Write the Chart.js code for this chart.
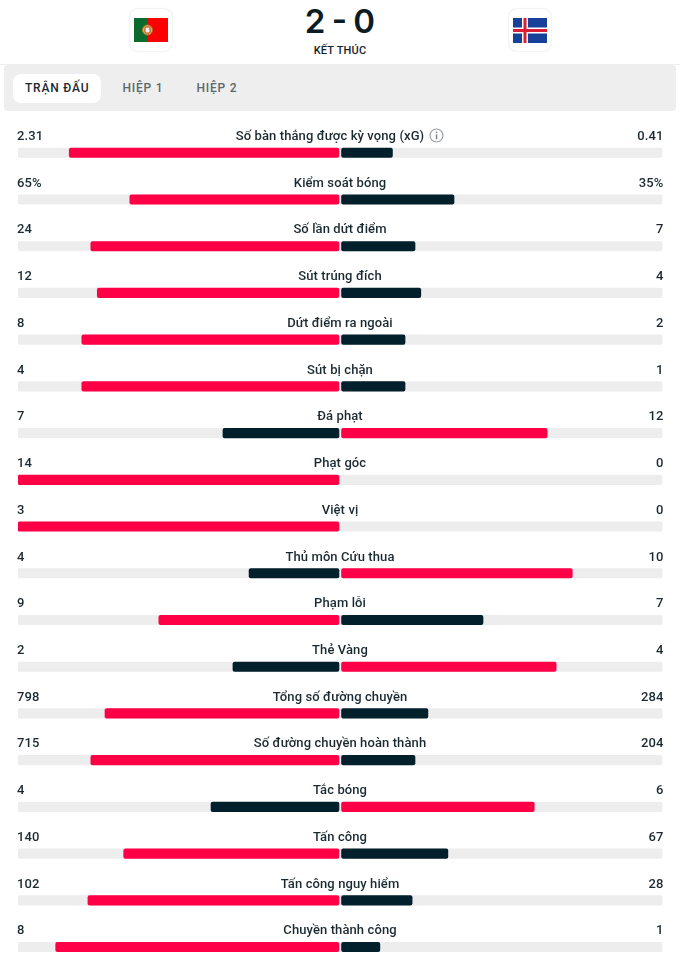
<!DOCTYPE html>
<html>
<head>
<meta charset="utf-8">
<script src="https://cdn.jsdelivr.net/npm/chart.js@4"></script>
<style>
html, body { margin: 0; padding: 0; background: #fff; }
body { width: 680px; height: 961px; overflow: hidden; position: relative; font-family: Roboto, sans-serif; color: #14232b; }
#statsChart { position: absolute; left: 0; top: 0; }
.abs { position: absolute; }
.flagbox { top: 9px; width: 42px; height: 42px; background: #fff; border-radius: 8px; box-shadow: 0 0 2px rgba(0,0,0,.18); }
#score { left: 240px; width: 200px; top: 0; text-align: center; font: 600 33px/42px Inter, sans-serif; color: #0c1c24; word-spacing: -2px; }
#status { left: 240px; width: 200px; top: 44px; text-align: center; font: 500 11px/14px Roboto, sans-serif; letter-spacing: .2px; }
#line { left: 0; top: 64px; width: 680px; height: 1px; background: #eee; }
#panel { left: 4px; top: 65px; width: 672px; height: 46px; background: #eeeeee; border-radius: 4px; }
#activeTab { left: 13px; top: 74px; width: 88px; height: 29px; background: #fff; border-radius: 8px; }
.tab { top: 80px; font: 500 12px/16px Roboto, sans-serif; letter-spacing: .8px; color: #5c666b; white-space: nowrap; }
</style>
</head>
<body>
<div class="abs flagbox" style="left:130px"></div>
<svg class="abs" style="left:134px;top:18px" width="34" height="24" viewBox="0 0 34 24">
  <rect width="34" height="24" fill="#ff0000"/>
  <rect width="13.5" height="24" fill="#0b6b2e"/>
  <circle cx="13.5" cy="12" r="5" fill="#e3c04a" stroke="#a8772a"/>
  <rect x="11" y="9" width="5" height="6" rx="1" fill="#f4f4f4" stroke="#c33" stroke-width="1"/>
</svg>
<div class="abs flagbox" style="left:509px"></div>
<svg class="abs" style="left:513px;top:18px" width="34" height="25" viewBox="0 0 34 25">
  <rect width="34" height="25" fill="#17409a"/>
  <rect x="9" width="6" height="25" fill="#fff"/>
  <rect y="9.5" width="34" height="6" fill="#fff"/>
  <rect x="10.5" width="3" height="25" fill="#dc1e35"/>
  <rect y="11" width="34" height="3" fill="#dc1e35"/>
</svg>
<div class="abs" id="score">2 - 0</div>
<div class="abs" id="status">KẾT THÚC</div>
<div class="abs" id="line"></div>
<div class="abs" id="panel"></div>
<div class="abs" id="activeTab"></div>
<div class="abs tab" style="left:25px;color:#1b2a31">TRẬN ĐẤU</div>
<div class="abs tab" style="left:122.5px">HIỆP 1</div>
<div class="abs tab" style="left:196.5px">HIỆP 2</div>
<canvas id="statsChart" width="680" height="971"></canvas>
<svg class="abs" style="left:429px;top:128px" width="15" height="15" viewBox="0 0 15 15">
  <circle cx="7.5" cy="7.5" r="6.5" fill="none" stroke="#9a9fa2" stroke-width="1.2"/>
  <rect x="6.8" y="6.4" width="1.5" height="4.8" fill="#7d8387"/>
  <rect x="6.8" y="3.6" width="1.5" height="1.6" fill="#7d8387"/>
</svg>
<script>
const statNames = ['Số bàn thắng được kỳ vọng (xG)', 'Kiểm soát bóng', 'Số lần dứt điểm', 'Sút trúng đích',
    'Dứt điểm ra ngoài', 'Sút bị chặn', 'Đá phạt', 'Phạt góc', 'Việt vị', 'Thủ môn Cứu thua', 'Phạm lỗi',
    'Thẻ Vàng', 'Tổng số đường chuyền', 'Số đường chuyền hoàn thành', 'Tắc bóng', 'Tấn công',
    'Tấn công nguy hiểm', 'Chuyền thành công'];
const homeLabels = ['2.31', '65%', '24', '12', '8', '4', '7', '14', '3', '4', '9', '2', '798', '715', '4', '140', '102', '8'];
const awayLabels = ['0.41', '35%', '7', '4', '2', '1', '12', '0', '0', '10', '7', '4', '284', '204', '6', '67', '28', '1'];
// bar lengths in % of each half
const homeShare = [84.1, 65.3, 77.4, 75.4, 80.2, 80.2, 36.4, 100, 100, 28.3, 56.3, 33.3, 73, 77.4, 40.1, 67.2, 78.3, 88.3];
const awayShare = [16.2, 35.3, 23.2, 25, 20.1, 20.1, 64.2, 0, 0, 72, 44.3, 67, 27.2, 23.2, 60.2, 33.4, 22.3, 12.3];

const red = '#ff0046';
const dark = '#02202b';
const track = '#ededed';
const gap = 0.4; // small space either side of the middle

const rowText = {
    id: 'rowText',
    afterDatasetsDraw(chart) {
        const { ctx, chartArea, scales } = chart;
        ctx.save();
        ctx.font = '500 13px Roboto, sans-serif';
        ctx.letterSpacing = '0.1px';
        ctx.fillStyle = '#1b2a31';
        ctx.textBaseline = 'middle';
        statNames.forEach((name, i) => {
            const y = scales.y.getPixelForValue(i) - 16;
            ctx.textAlign = 'left';
            ctx.fillText(homeLabels[i], chartArea.left - 1, y);
            ctx.textAlign = 'right';
            ctx.fillText(awayLabels[i], chartArea.right + 1, y);
            ctx.textAlign = 'center';
            ctx.fillText(name, 340 + (i === 0 ? -10 : 0), y);
        });
        ctx.restore();
    }
};

new Chart(document.getElementById('statsChart').getContext('2d'), {
    type: 'bar',
    data: {
        labels: statNames,
        datasets: [{
            label: 'Iceland',
            data: awayShare.map(v => v > 0 ? [gap, v] : null),
            backgroundColor: awayShare.map((v, i) => v > homeShare[i] ? red : dark),
            order: 1
        }, {
            label: 'Bồ Đào Nha',
            data: homeShare.map(v => [-v, -gap]),
            backgroundColor: homeShare.map((v, i) => v >= awayShare[i] ? red : dark),
            order: 1
        }, {
            label: 'track',
            data: statNames.map(() => [-100, 100]),
            backgroundColor: track,
            order: 2
        }]
    },
    plugins: [rowText],
    options: {
        indexAxis: 'y',
        responsive: false,
        animation: false,
        layout: { padding: { left: 18, right: 17.5, top: 129.4, bottom: 0.6 } },
        datasets: {
            bar: { grouped: false, barThickness: 9.5, borderRadius: 2, borderSkipped: false }
        },
        plugins: {
            legend: { display: false },
            tooltip: { enabled: false }
        },
        scales: {
            x: { display: false, min: -100, max: 100 },
            y: { display: false }
        }
    }
});
</script>
</body>
</html>
